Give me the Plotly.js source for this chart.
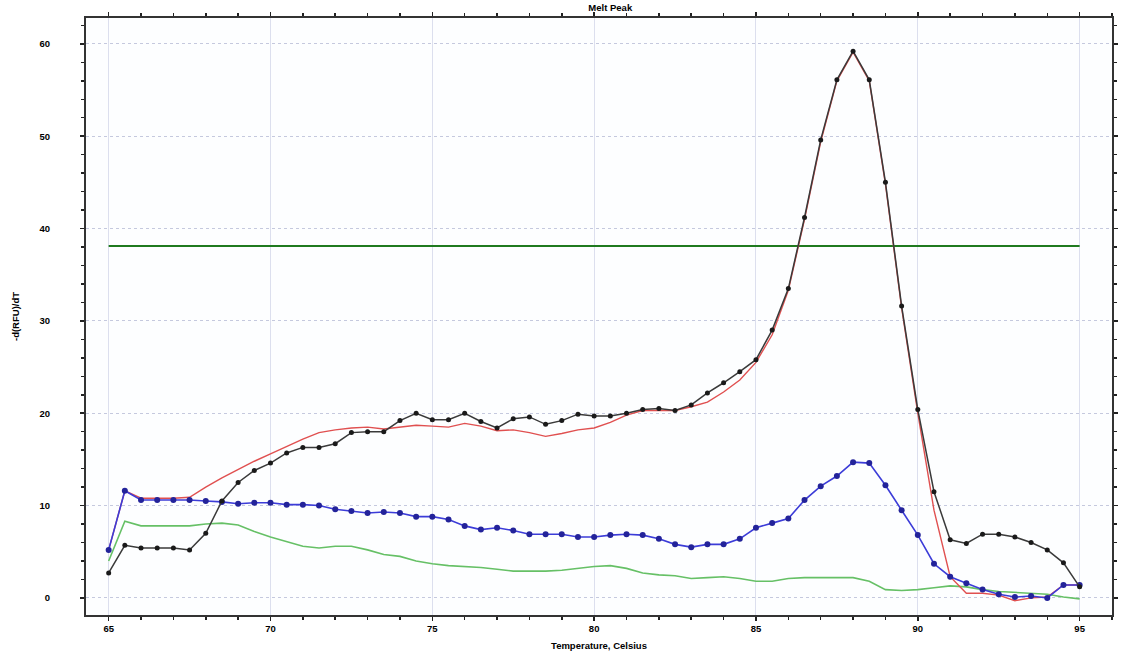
<!DOCTYPE html>
<html>
<head>
<meta charset="utf-8">
<script src="https://cdn.plot.ly/plotly-3.0.1.min.js"></script>
<style>html,body{margin:0;padding:0;background:#fff;}#chart{width:1122px;height:656px;}</style>
</head>
<body>
<div id="chart"></div>
<script>
var temps = [65,65.5,66,66.5,67,67.5,68,68.5,69,69.5,70,70.5,71,71.5,72,72.5,73,73.5,74,74.5,75,75.5,76,76.5,77,77.5,78,78.5,79,79.5,80,80.5,81,81.5,82,82.5,83,83.5,84,84.5,85,85.5,86,86.5,87,87.5,88,88.5,89,89.5,90,90.5,91,91.5,92,92.5,93,93.5,94,94.5,95];

var blackSeries = [2.7,5.7,5.4,5.4,5.4,5.2,7.0,10.5,12.5,13.8,14.6,15.7,16.3,16.3,16.7,17.9,18.0,18.0,19.2,20.0,19.3,19.3,20.0,19.1,18.4,19.4,19.6,18.8,19.2,19.9,19.7,19.7,20.0,20.4,20.5,20.3,20.9,22.2,23.3,24.5,25.8,29.0,33.5,41.2,49.6,56.1,59.2,56.1,45.0,31.6,20.4,11.5,6.3,5.9,6.9,6.9,6.6,6.0,5.2,3.8,1.2];

var redSeries = [5.2,11.6,10.8,10.8,10.8,10.9,12.0,13.0,13.9,14.8,15.6,16.4,17.2,17.9,18.2,18.4,18.5,18.3,18.5,18.7,18.6,18.5,18.9,18.6,18.1,18.2,17.9,17.5,17.8,18.2,18.4,19.0,19.8,20.3,20.3,20.3,20.7,21.2,22.3,23.6,25.5,28.5,33.3,41.0,49.4,56.0,59.1,56.0,44.8,31.4,20.0,9.5,2.3,0.5,0.5,0.3,-0.3,0.0,0.1,1.4,1.4];

var blueSeries = [5.2,11.6,10.6,10.6,10.6,10.6,10.5,10.4,10.2,10.3,10.3,10.1,10.1,10.0,9.6,9.4,9.2,9.3,9.2,8.8,8.8,8.5,7.8,7.4,7.6,7.3,6.9,6.9,6.9,6.6,6.6,6.8,6.9,6.8,6.4,5.8,5.5,5.8,5.8,6.4,7.6,8.1,8.6,10.6,12.1,13.2,14.7,14.6,12.2,9.5,6.8,3.7,2.3,1.6,0.9,0.4,0.1,0.2,0.0,1.4,1.4];

var greenSeries = [4.0,8.3,7.8,7.8,7.8,7.8,8.0,8.1,7.9,7.2,6.6,6.1,5.6,5.4,5.6,5.6,5.2,4.7,4.5,4.0,3.7,3.5,3.4,3.3,3.1,2.9,2.9,2.9,3.0,3.2,3.4,3.5,3.2,2.7,2.5,2.4,2.1,2.2,2.3,2.1,1.8,1.8,2.1,2.2,2.2,2.2,2.2,1.8,0.9,0.8,0.9,1.1,1.3,1.2,0.9,0.7,0.6,0.5,0.4,0.1,-0.1];

var thresholdX = [65, 95];
var thresholdY = [38.1, 38.1];

var xTicks = [65,70,75,80,85,90,95];
var yTicks = [0,10,20,30,40,50,60];

var traces = [
  {x: thresholdX, y: thresholdY, mode: 'lines', line: {color: '#1f7a1f', width: 2}, hoverinfo: 'skip'},
  {x: temps, y: greenSeries, mode: 'lines', line: {color: '#66c066', width: 1.6}},
  {x: temps, y: redSeries, mode: 'lines', line: {color: '#e05050', width: 1.4}},
  {x: temps, y: blueSeries, mode: 'lines+markers', line: {color: '#3c3cd8', width: 1.6}, marker: {color: '#23239a', size: 6, symbol: 'circle'}},
  {x: temps, y: blackSeries, mode: 'lines+markers', line: {color: '#3a3a3a', width: 1.5}, marker: {color: '#1a1a1a', size: 5, symbol: 'circle'}}
];

var tickFont = {family: 'Liberation Sans, Arial, sans-serif', size: 9.5, color: '#000', weight: 'bold'};

var layout = {
  width: 1122, height: 656,
  margin: {l: 86, r: 10, t: 18, b: 41},
  paper_bgcolor: '#ffffff',
  plot_bgcolor: '#fdfeff',
  showlegend: false,
  title: {text: 'Melt Peak', font: {family: 'Liberation Sans, Arial, sans-serif', size: 9.5, color: '#000', weight: 'bold'}, x: 0.511, xref: 'paper', y: 0.988, yref: 'container', xanchor: 'center', yanchor: 'middle'},
  xaxis: {
    range: [64.3, 96], tickvals: xTicks, ticktext: xTicks.map(String),
    ticks: 'outside', ticklen: 4, tickwidth: 1.5, tickcolor: '#222',
    minor: {dtick: 1, ticks: 'outside', ticklen: 3, tickcolor: '#222', showgrid: false},
    showline: true, linecolor: '#333', linewidth: 2, mirror: 'ticks',
    showgrid: true, gridcolor: '#dcdfee', gridwidth: 1,
    zeroline: false, tickfont: tickFont,
    title: {text: 'Temperature, Celsius', font: tickFont, standoff: 9}
  },
  yaxis: {
    range: [-1.85, 62.8], tickvals: yTicks, ticktext: yTicks.map(String),
    ticks: 'outside', ticklen: 4, tickwidth: 1.5, tickcolor: '#222',
    minor: {dtick: 2, ticks: 'outside', ticklen: 3, tickcolor: '#222', showgrid: false},
    showline: true, linecolor: '#333', linewidth: 2, mirror: 'ticks',
    showgrid: true, gridcolor: '#c5c9de', gridwidth: 1, griddash: 'dot',
    zeroline: false, tickfont: tickFont, ticklabelstandoff: 28,
    title: {text: '-d(RFU)/dT', font: tickFont, standoff: 18}
  }
};

Plotly.newPlot('chart', traces, layout, {displayModeBar: false, staticPlot: true});
</script>
</body>
</html>
